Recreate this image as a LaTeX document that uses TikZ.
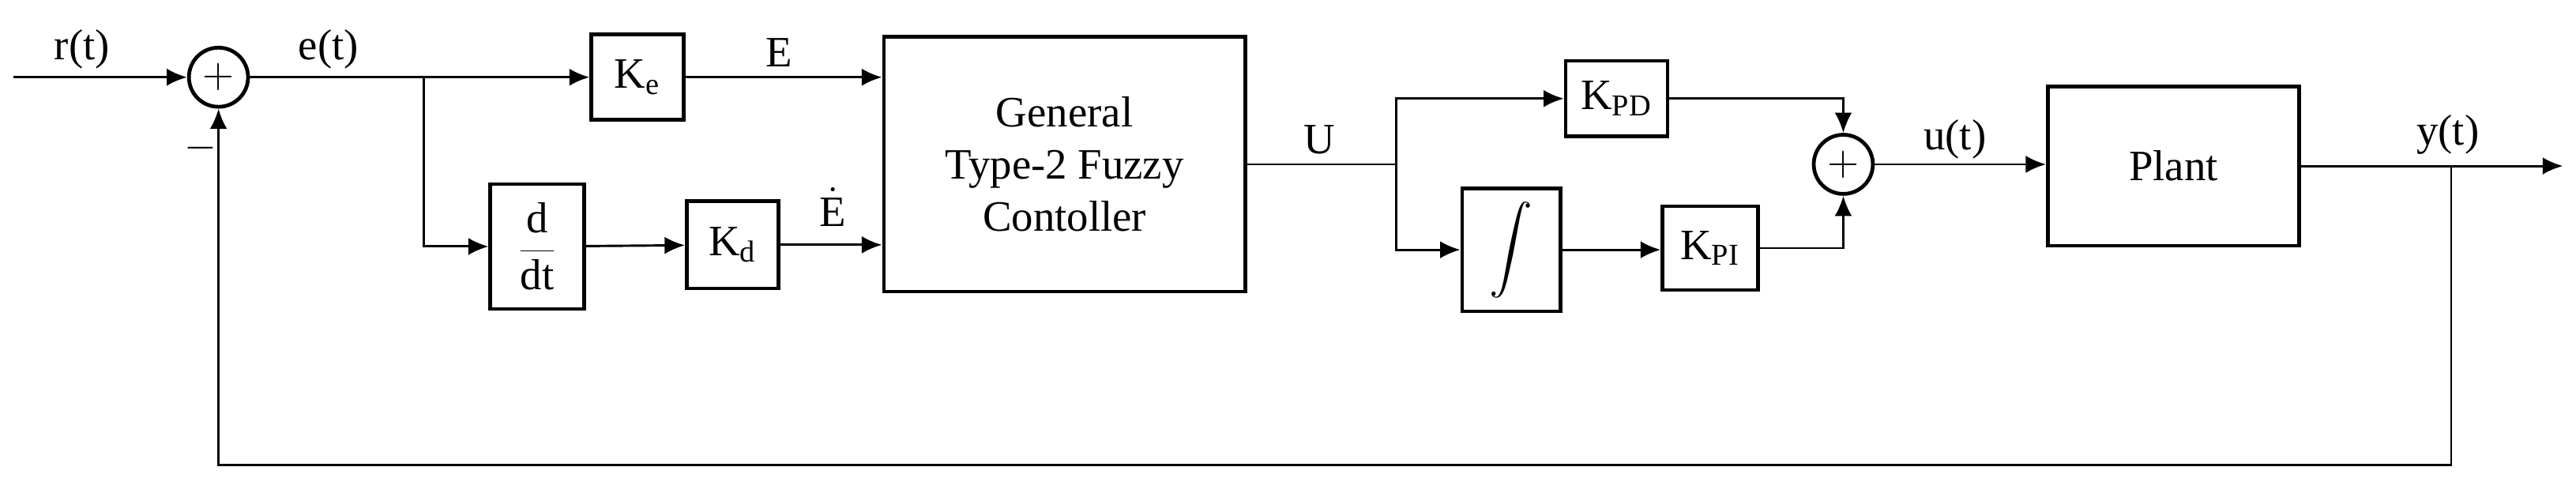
\documentclass[tikz,border=0pt]{standalone}
\usepackage{fontspec}
\usepackage{graphicx}
\setmainfont{Liberation Serif}
\usetikzlibrary{arrows.meta}
\begin{document}
\begin{tikzpicture}[x=0.02cm,y=-0.02cm,
  every node/.style={font=\fontsize{15}{18}\selectfont},
  blk/.style={draw,line width=1.3pt,inner sep=0pt},
  sum/.style={draw,circle,line width=1.3pt,minimum size=0.72cm,inner sep=0pt},
  lab/.style={inner sep=1pt},
  ar/.style={-{Latex[length=7pt,width=6pt]},line width=0.8pt},
  ln/.style={line width=0.8pt}]
\useasboundingbox (0,0) rectangle (1568,293);
\coordinate (in) at (8,47);
\node[sum] (s1) at (133,47) {$+$};
\node[blk,minimum width=1.12cm,minimum height=1.04cm] (ke) at (388,47) {K\textsubscript{e}};
\node[blk,minimum width=1.14cm,minimum height=1.52cm] (dd) at (327,150) {$\displaystyle\frac{\mathrm{d}}{\mathrm{dt}}$};
\node[blk,minimum width=1.12cm,minimum height=1.06cm] (kd) at (446,149) {K\textsubscript{d}};
\node[blk,minimum width=4.4cm,minimum height=3.1cm,align=center] (fc) at (648,100) {General\\Type-2 Fuzzy\\Contoller};
\node[blk,minimum width=1.24cm,minimum height=0.92cm] (kpd) at (984,60) {K\textsubscript{PD}};
\node[blk,minimum width=1.2cm,minimum height=1.5cm] (int) at (920,152) {\scalebox{1.5}{$\displaystyle\int$}};
\node[blk,minimum width=1.16cm,minimum height=1.02cm] (kpi) at (1041,151) {K\textsubscript{PI}};
\node[sum] (s2) at (1122,100) {$+$};
\node[blk,minimum width=3.06cm,minimum height=1.94cm] (pl) at (1323,101) {Plant};
\coordinate (out) at (1560,101);
\coordinate (eb) at (258,47);
\coordinate (ub) at (850,100);
\coordinate (yb) at (1492,101);
\draw[ar] (in) -- (s1);
\draw[ar] (s1) -- (ke);
\draw[ar] (eb) |- (dd);
\draw[ar] (dd) -- (kd);
\draw[ar] (ke.east) -- (fc.west |- ke.east);
\draw[ar] (kd.east) -- (fc.west |- kd.east);
\draw[ln] (fc.east |- ub) -- (ub);
\draw[ar] (ub) |- (kpd);
\draw[ar] (ub) |- (int);
\draw[ar] (int) -- (int.east -| kpi.west);
\draw[ar] (kpd.east) -| (s2.north);
\draw[ar] (kpi.east) -| (s2.south);
\draw[ar] (s2) -- (pl.west |- s2);
\draw[ar] (pl.east |- out) -- (out);
\draw[ar] (yb) -- (1492,283) -| (s1.south);
\node[lab] at (50,30) {r(t)};
\node[lab] at (200,30) {e(t)};
\node[lab] at (122,90) {$-$};
\node[lab] at (474,32) {E};
\node[lab] at (507,126) {$\dot{\mathrm{E}}$};
\node[lab] at (803,85) {U};
\node[lab] at (1190,85) {u(t)};
\node[lab] at (1490,82) {y(t)};
\end{tikzpicture}
\end{document}
